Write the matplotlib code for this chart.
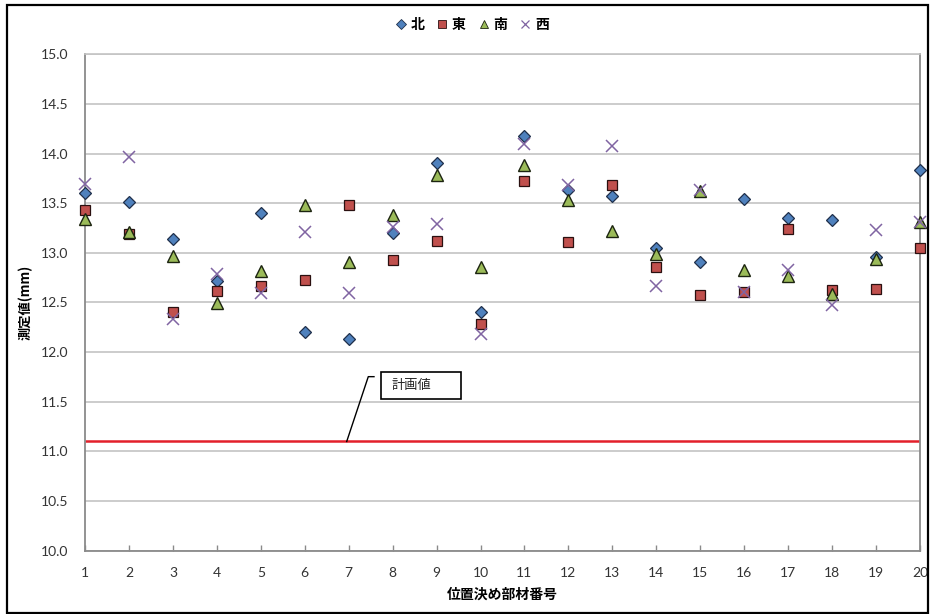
import matplotlib
matplotlib.use("Agg")
import matplotlib.pyplot as plt
from matplotlib.patches import Rectangle
from matplotlib.lines import Line2D

# Measured values per positioning member (mm)
members = list(range(1, 21))
north = [13.60, 13.51, 13.14, 12.72, 13.40, 12.20, 12.13, 13.20, 13.91, 12.40,
         14.18, 13.63, 13.57, 13.05, 12.91, 13.54, 13.35, 13.33, 12.96, 13.83]
east = [13.43, 13.19, 12.40, 12.62, 12.67, 12.73, 13.48, 12.93, 13.12, 12.28,
        13.72, 13.11, 13.68, 12.86, 12.58, 12.61, 13.24, 12.63, 12.64, 13.05]
south = [13.34, 13.21, 12.97, 12.49, 12.82, 13.48, 12.91, 13.38, 13.78, 12.86,
         13.89, 13.53, 13.22, 12.99, 13.62, 12.83, 12.77, 12.59, 12.94, 13.31]
west = [13.69, 13.97, 12.33, 12.79, 12.60, 13.21, 12.60, 13.26, 13.29, 12.18,
        14.10, 13.68, 14.08, 12.67, 13.63, 12.61, 12.83, 12.47, 13.23, 13.31]
plan_value = 11.1

series_names = ["北", "東", "南", "西"]
y_ticks = [10.0 + 0.5 * i for i in range(11)]

CJK = ["Noto Sans CJK JP", "DejaVu Sans"]
NUM = ["Lato", "DejaVu Sans"]

fig = plt.figure(figsize=(9.3, 6.14), dpi=100)
ax = fig.add_axes([85 / 930, (614 - 550.7) / 614, 835 / 930, (550.7 - 54.3) / 614])

# outer chart frame
fig.patches.append(Rectangle((7 / 930, 1 / 614), 921 / 930, 608 / 614,
                             transform=fig.transFigure, fill=False,
                             edgecolor="black", linewidth=1.6, zorder=0))

ax.set_xlim(1, 20)
ax.set_ylim(10.0, 15.0)
ax.set_yticks(y_ticks)
ax.set_yticklabels([f"{v:.1f}" for v in y_ticks], family=NUM, fontsize=10, color="#333333")
ax.set_xticks(members)
ax.set_xticklabels([str(m) for m in members], family=NUM, fontsize=10, color="#333333")
ax.tick_params(axis="y", length=0, pad=12)
ax.tick_params(axis="x", direction="in", length=4, width=1, color="#8a8a8a", pad=12)

ax.grid(axis="y", color="#c4c4c4", linewidth=1.2)
ax.set_axisbelow(True)
for side in ["left", "bottom", "right"]:
    ax.spines[side].set_color("#8a8a8a")
    ax.spines[side].set_linewidth(1.3)
ax.spines["top"].set_color("#c4c4c4")
ax.spines["top"].set_linewidth(1.2)

# planned value line
ax.plot([1, 20], [plan_value, plan_value], color="#e3202b", linewidth=1.8, zorder=2,
        solid_capstyle="butt")

styles = [
    dict(marker="D", color="#4f81bd", ms=6.2, mec="#1f2f4a", mew=0.9),
    dict(marker="s", color="#c0504d", ms=7.6, mec="#2a1010", mew=0.9),
    dict(marker="^", color="#9bbb59", ms=8.6, mec="#1c2410", mew=1.0),
    dict(marker="x", color="#8064a2", ms=8.2, mec="#8064a2", mew=1.1),
]
for vals, st in zip([north, east, south, west], styles):
    ax.plot(members, vals, linestyle="none", marker=st["marker"], markersize=st["ms"],
            markerfacecolor=st["color"], markeredgecolor=st["mec"],
            markeredgewidth=st["mew"], zorder=3, clip_on=False)

# callout for the planned value line
lx0, ly1, lx1, lx2 = 6.955, 11.753, 7.446, 7.576
ax.plot([lx0, lx1, lx2], [plan_value, ly1, ly1], color="black", linewidth=1.0, zorder=4)
ax.add_patch(Rectangle((7.735, 11.529), 1.814, 0.275, facecolor="white",
                       edgecolor="black", linewidth=1.2, zorder=4))
ax.text(7.98, 11.666, "計画値", family=CJK, fontsize=9.5, va="center", ha="left",
        color="#222222", zorder=5)

ax.set_ylabel("測定値(mm)", family=CJK, fontsize=9.5, fontweight="bold", labelpad=10)
ax.yaxis.set_label_coords(-0.062, 0.5)
ax.set_xlabel("位置決め部材番号", family=CJK, fontsize=10, fontweight="bold", labelpad=6)

handles = [Line2D([], [], linestyle="none", marker=st["marker"],
                  markersize=st["ms"] * 0.75, markerfacecolor=st["color"],
                  markeredgecolor=st["color"] if st["marker"] == "x" else st["mec"],
                  markeredgewidth=0.6 if st["marker"] != "x" else 0.9)
           for st in styles]
leg = fig.legend(handles, series_names, loc="center", bbox_to_anchor=(472 / 930, 1 - 25 / 614),
                 ncol=4, frameon=False, handlelength=0.8, handletextpad=0.3,
                 columnspacing=0.9, prop={"family": CJK, "size": 10, "weight": "bold"})

fig.savefig("out.png", dpi=100)
